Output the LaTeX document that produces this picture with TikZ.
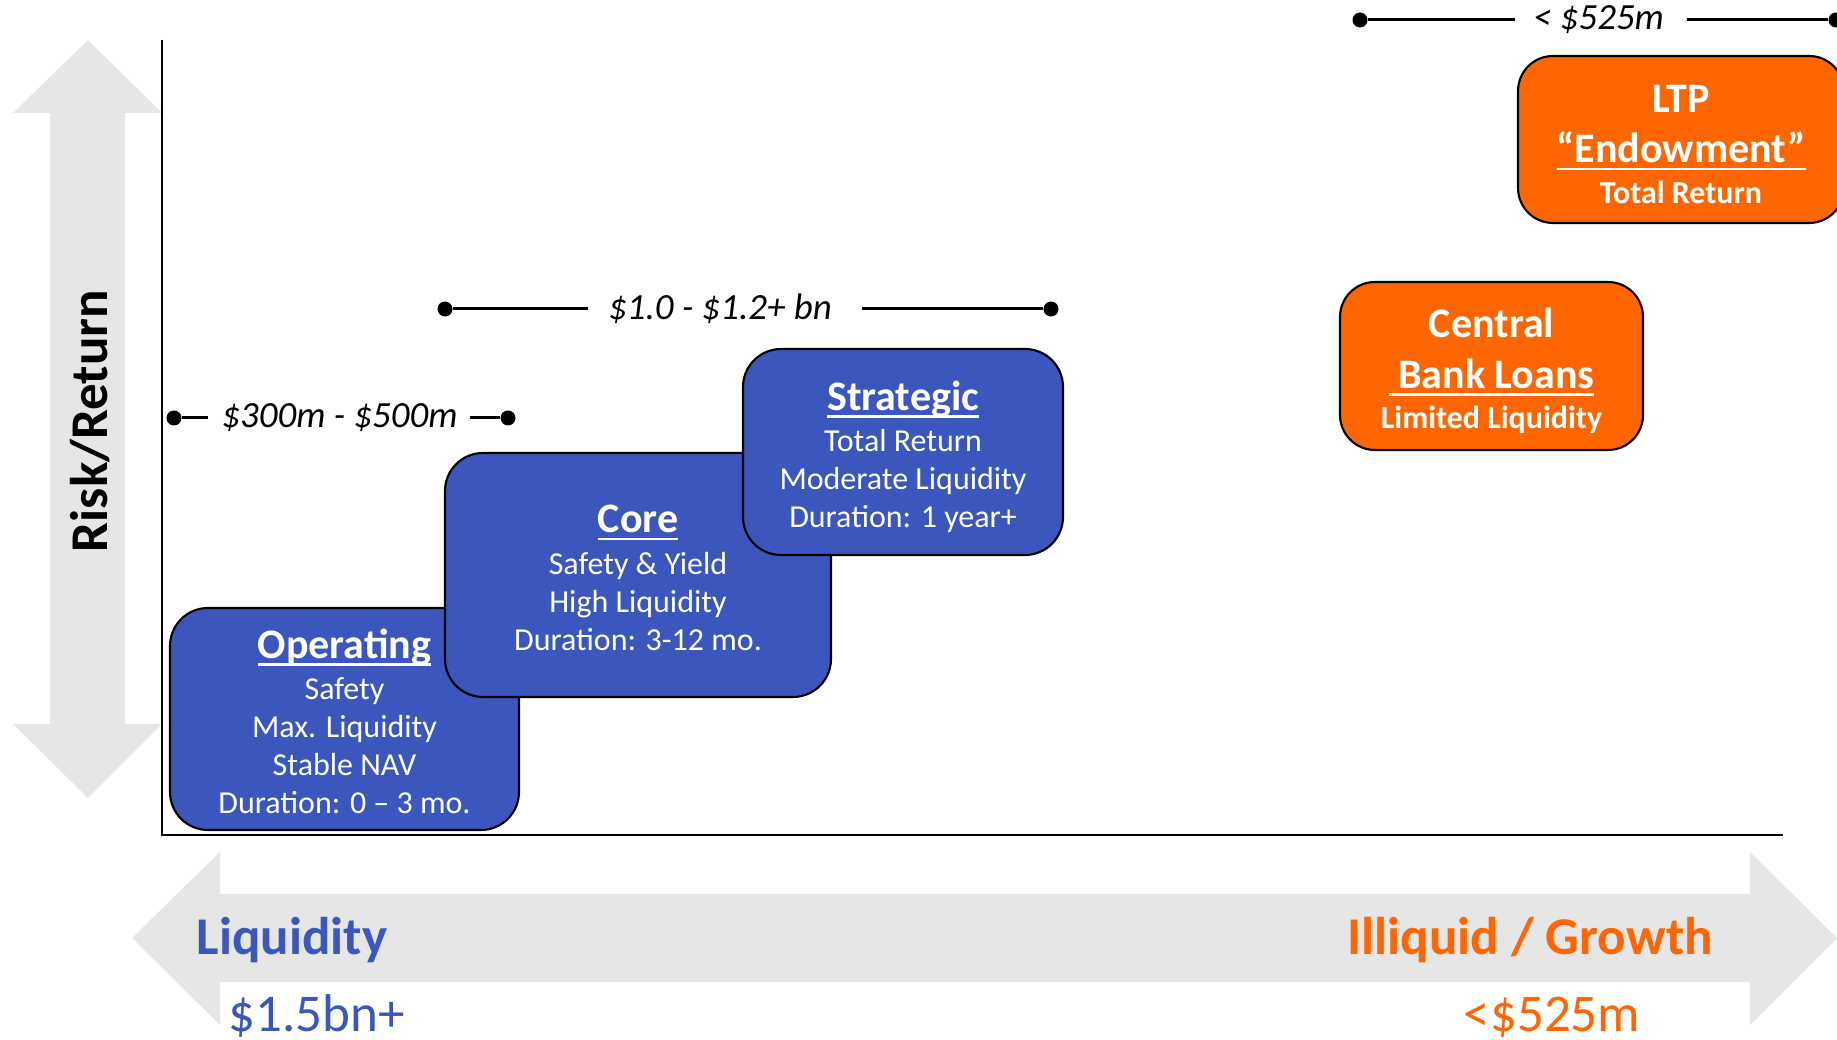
\documentclass[tikz,border=0pt]{standalone}
\usepackage{fontspec}
\setmainfont{Carlito}
\definecolor{boxblue}{RGB}{59,86,189}
\definecolor{boxorange}{RGB}{255,102,0}
\definecolor{arrowgray}{RGB}{230,230,230}
\newcommand{\ulword}[1]{\leavevmode\setbox0\hbox{#1}\rlap{\rule[-2.2pt]{\wd0}{0.7pt}}\box0}
\newcommand{\headstrut}[1]{\vrule width 0pt height \dimexpr\fontcharht\font`l+#1\relax}
\newcommand{\boxhead}[2]{{\fontsize{11.95}{14.3}\selectfont\bfseries\headstrut{#2}\ulword{#1}}}
\newcommand{\boxsub}[1]{{\fontsize{9.1}{10.8}\selectfont #1}}

\begin{document}
\begin{tikzpicture}[
  bluebox/.style={draw=black, line width=0.6pt, fill=boxblue, rounded corners=0.38cm,
    text=white, align=center, inner sep=0pt, font=\fontsize{9.1}{10.8}\selectfont},
  orangebox/.style={draw=black, line width=0.6pt, fill=boxorange, rounded corners=0.35cm,
    text=white, align=center, inner sep=0pt, font=\fontsize{11.95}{14.3}\selectfont\bfseries},
  rangetext/.style={inner sep=0pt, font=\fontsize{10.5}{12.6}\selectfont\itshape},
  rangedot/.style={circle, fill=black, inner sep=0pt, minimum size=0.15cm},
  rangeline/.style={line width=0.85pt},
  axislabel/.style={inner sep=0pt, font=\fontsize{15.1}{18}\selectfont\bfseries},
  axisamount/.style={inner sep=0pt, font=\fontsize{15.1}{18}\selectfont}
]
\useasboundingbox (0,0) rectangle (18.37,10.40);

% Risk/Return arrow
\fill[arrowgray] (0.88,10.00) -- (1.62,9.27) -- (1.25,9.27) -- (1.25,3.16) -- (1.62,3.16)
  -- (0.88,2.42) -- (0.13,3.16) -- (0.50,3.16) -- (0.50,9.27) -- (0.13,9.27) -- cycle;
\node[axislabel, rotate=90, anchor=base] (risk) at (1.07,6.19) {Risk/Return};

% Liquidity arrow
\fill[arrowgray] (1.32,1.02) -- (2.20,1.88) -- (2.20,1.46) -- (17.50,1.46) -- (17.50,1.88)
  -- (18.37,1.02) -- (17.50,0.15) -- (17.50,0.58) -- (2.20,0.58) -- (2.20,0.15) -- cycle;
\node[axislabel, text=boxblue, anchor=base west] (liq) at (1.96,0.85) {Liquidity};
\node[axisamount, text=boxblue, anchor=base west] (liqamt) at (2.28,0.08) {\$1.5bn+};
\node[axislabel, text=boxorange, anchor=base] (ill) at (15.30,0.85) {Illiquid / Growth};
\node[axisamount, text=boxorange, anchor=base] (illamt) at (15.52,0.08) {<\$525m};

% Axes
\draw[line width=0.7pt] (1.62,10.00) -- (1.62,2.05) -- (17.83,2.05);

% Buckets
\node[bluebox, minimum width=3.49cm, minimum height=2.22cm] (oper) at (3.445,3.21)
  {\boxhead{Operating}{1.3pt}\\[1pt] Safety\\ Max. Liquidity\\ Stable NAV\\ Duration: 0 -- 3 mo.};
\node[bluebox, minimum width=3.86cm, minimum height=2.44cm] (core) at (6.38,4.65)
  {\boxhead{Core}{1.0pt}\\[1pt] Safety \& Yield\\ High Liquidity\\ Duration: 3-12 mo.};
\node[bluebox, minimum width=3.20cm, minimum height=2.06cm] (strat) at (9.03,5.88)
  {\boxhead{Strategic}{2.7pt}\\[1pt] Total Return\\ Moderate Liquidity\\ Duration: 1 year+};
\node[orangebox, minimum width=3.03cm, minimum height=1.68cm] (cbl) at (14.915,6.74)
  {\headstrut{2.8pt}Central\\ \ulword{\ Bank Loans}\\[-2.8pt] \boxsub{Limited Liquidity}};
\node[orangebox, minimum width=3.26cm, minimum height=1.67cm] (ltp) at (16.81,9.005)
  {\headstrut{2.1pt}LTP\\ \ulword{“Endowment”}\\[-2.8pt] \boxsub{Total Return}};

% Ranges
\node[rangedot] (opl) at (1.74,6.22) {};
\node[rangedot] (opr) at (5.08,6.22) {};
\node[rangetext] (opt) at (3.395,6.22) {\$300m - \$500m};
\draw[rangeline] (opl) -- ([xshift=-0.13cm]opt.west);
\draw[rangeline] ([xshift=0.12cm]opt.east) -- (opr);

\node[rangedot] (bnl) at (4.45,7.31) {};
\node[rangedot] (bnr) at (10.51,7.31) {};
\node[rangetext] (bnt) at (7.20,7.31) {\$1.0 - \$1.2+ bn};
\draw[rangeline] (bnl) -- ([xshift=-0.2cm]bnt.west);
\draw[rangeline] ([xshift=0.3cm]bnt.east) -- (bnr);

\node[rangedot] (ltl) at (13.60,10.20) {};
\node[rangedot] (ltr) at (18.36,10.20) {};
\node[rangetext] (ltt) at (15.985,10.20) {< \$525m};
\draw[rangeline] (ltl) -- ([xshift=-0.17cm]ltt.west);
\draw[rangeline] ([xshift=0.22cm]ltt.east) -- (ltr);
\end{tikzpicture}
\end{document}
